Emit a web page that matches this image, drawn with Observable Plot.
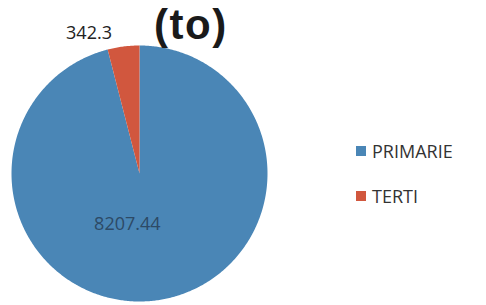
<!DOCTYPE html>
<html><head><meta charset="utf-8">
<script src="https://cdn.jsdelivr.net/npm/d3@7"></script>
<script src="https://cdn.jsdelivr.net/npm/@observablehq/plot@0.6"></script>
<style>
body{margin:0;background:#fff;font-family:"Open Sans",sans-serif;}
#wrap{position:relative;width:486px;height:305px;overflow:hidden;}
#title{position:absolute;left:154px;top:1px;font-family:"Liberation Sans",Arial,sans-serif;font-weight:bold;font-size:42px;line-height:normal;color:#1a1a1a;letter-spacing:1.5px;}
#legend{position:absolute;left:356px;top:128px;font-size:18px;color:#333;}
.li{display:flex;align-items:center;height:45px;}
.sw{width:10px;height:10px;margin-right:6px;}
</style></head><body>
<div id="wrap"><div id="chart"></div><div id="title">(to)</div><div id="legend"></div></div>
<script>
const categories = ["PRIMARIE", "TERTI"];
const values = [8207.44, 342.3];
const colors = ["#4a86b6", "#d1573e"];
const labels = ["8207.44", "342.3"];

const pie = d3.pie().sort(null).value(d => d.value);
const arcs = pie(categories.map((c, i) => ({name: c, value: values[i], color: colors[i], label: labels[i]})));
// build polygons (angles clockwise from 12 o'clock)
const pts = [];
arcs.forEach(a => {
  pts.push({name: a.data.name, x: 0, y: 0});
  const n = Math.max(4, Math.ceil((a.endAngle - a.startAngle) / 0.01));
  for (let k = 0; k <= n; k++) {
    const t = a.startAngle + (a.endAngle - a.startAngle) * k / n;
    pts.push({name: a.data.name, x: Math.sin(t), y: Math.cos(t)});
  }
});
const lab = arcs.map(a => {
  const m = (a.startAngle + a.endAngle) / 2;
  const big = a.data.name === "PRIMARIE";
  const rr = big ? 0.55 : 1.15;
  return {label: a.data.label, x: Math.sin(m) * rr, y: Math.cos(m) * rr, big};
});

const chart = Plot.plot({
  width: 486, height: 305,
  margin: 0,
  x: {domain: [-1, 1], range: [11, 267], axis: null},
  y: {domain: [-1, 1], range: [301, 45], axis: null},
  color: {domain: categories, range: colors},
  style: {fontFamily: "Open Sans, sans-serif", background: "white"},
  marks: [
    ...categories.map(c => Plot.line(pts.filter(p => p.name === c), {x: "x", y: "y", fill: colors[categories.indexOf(c)], stroke: "none", curve: "linear-closed"})),
    Plot.text(lab.filter(d => d.big), {x: "x", y: "y", text: "label", fontSize: 18, fill: "#2d4a66", dx: -21, dy: -19, style: "letter-spacing:1.5px"}),
    Plot.text(lab.filter(d => !d.big), {x: "x", y: "y", text: "label", fontSize: 18, fill: "#222", dx: -32, dy: 6})
  ]
});
document.getElementById("chart").appendChild(chart);
const lg = document.getElementById("legend");
categories.forEach((c, i) => {
  const d = document.createElement("div"); d.className = "li";
  d.innerHTML = `<span class="sw" style="background:${colors[i]}"></span><span>${c}</span>`;
  lg.appendChild(d);
});
</script></body></html>
